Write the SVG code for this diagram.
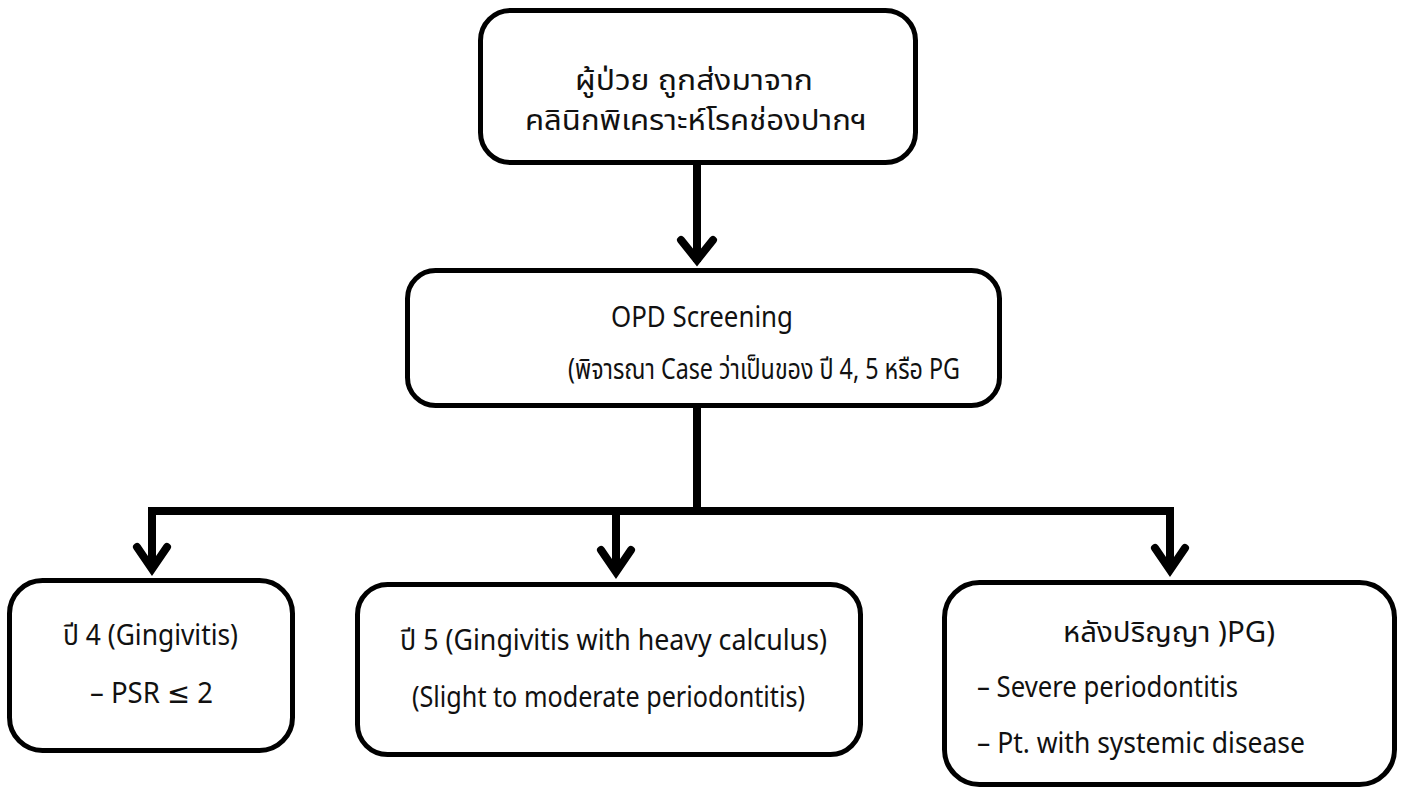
<svg xmlns="http://www.w3.org/2000/svg" width="1401" height="790" viewBox="0 0 1401 790">
<style>
.box{fill:#fff;stroke:#000;stroke-width:5}
.t{font-family:"Noto Sans","Noto Sans Thai","Loma","Garuda","DejaVu Sans",sans-serif;font-size:29px;fill:#111}
.ln{fill:none;stroke:#000;stroke-width:8;stroke-linejoin:miter}
.hd{fill:none;stroke:#000;stroke-width:8;stroke-linecap:round;stroke-linejoin:miter;stroke-miterlimit:10}
</style>
<rect width="1401" height="790" fill="#fff"/>
<g id="connectors">
<path class="ln" d="M697,165 V262"/>
<polyline class="hd" points="681,240 697,260 713,240"/>
<path class="ln" d="M697,408 V511"/>
<path class="ln" d="M152,568 V511 H1170 V568"/>
<path class="ln" d="M616,511 V571"/>
<polyline class="hd" points="137,547 152,569 167,547"/>
<polyline class="hd" points="601,550 616,572 631,550"/>
<polyline class="hd" points="1155,548 1170,570 1185,548"/>
</g>
<g id="n-referral">
<rect class="box" x="480.5" y="10.5" width="435" height="152" rx="30"/>
<text class="t" x="575" y="90" textLength="238" lengthAdjust="spacingAndGlyphs">ผู้ป่วย ถูกส่งมาจาก</text>
<text class="t" x="525" y="130" textLength="342" lengthAdjust="spacingAndGlyphs">คลินิกพิเคราะห์โรคช่องปากฯ</text>
</g>
<g id="n-opd">
<rect class="box" x="407.5" y="270.5" width="592" height="135" rx="28"/>
<text class="t" x="611" y="327" textLength="182" lengthAdjust="spacingAndGlyphs">OPD Screening</text>
<text class="t" x="568" y="379" textLength="392" lengthAdjust="spacingAndGlyphs">(พิจารณา Case ว่าเป็นของ ปี 4, 5 หรือ PG</text>
</g>
<g id="n-year4">
<rect class="box" x="9.5" y="580.5" width="283" height="170" rx="33"/>
<text class="t" x="63" y="645" textLength="175" lengthAdjust="spacingAndGlyphs">ปี 4 (Gingivitis)</text>
<text class="t" x="90" y="703" textLength="123" lengthAdjust="spacingAndGlyphs">– PSR ≤ 2</text>
</g>
<g id="n-year5">
<rect class="box" x="357.5" y="584.5" width="503" height="170" rx="30"/>
<text class="t" x="400" y="650" textLength="427" lengthAdjust="spacingAndGlyphs">ปี 5 (Gingivitis with heavy calculus)</text>
<text class="t" x="412" y="707" textLength="393" lengthAdjust="spacingAndGlyphs">(Slight to moderate periodontitis)</text>
</g>
<g id="n-pg">
<rect class="box" x="944.5" y="582.5" width="450" height="202" rx="35"/>
<text class="t" x="1063" y="642" textLength="212" lengthAdjust="spacingAndGlyphs">หลังปริญญา )PG)</text>
<text class="t" x="977" y="697" textLength="261" lengthAdjust="spacingAndGlyphs">– Severe periodontitis</text>
<text class="t" x="977" y="753" textLength="328" lengthAdjust="spacingAndGlyphs">– Pt. with systemic disease</text>
</g>
</svg>
